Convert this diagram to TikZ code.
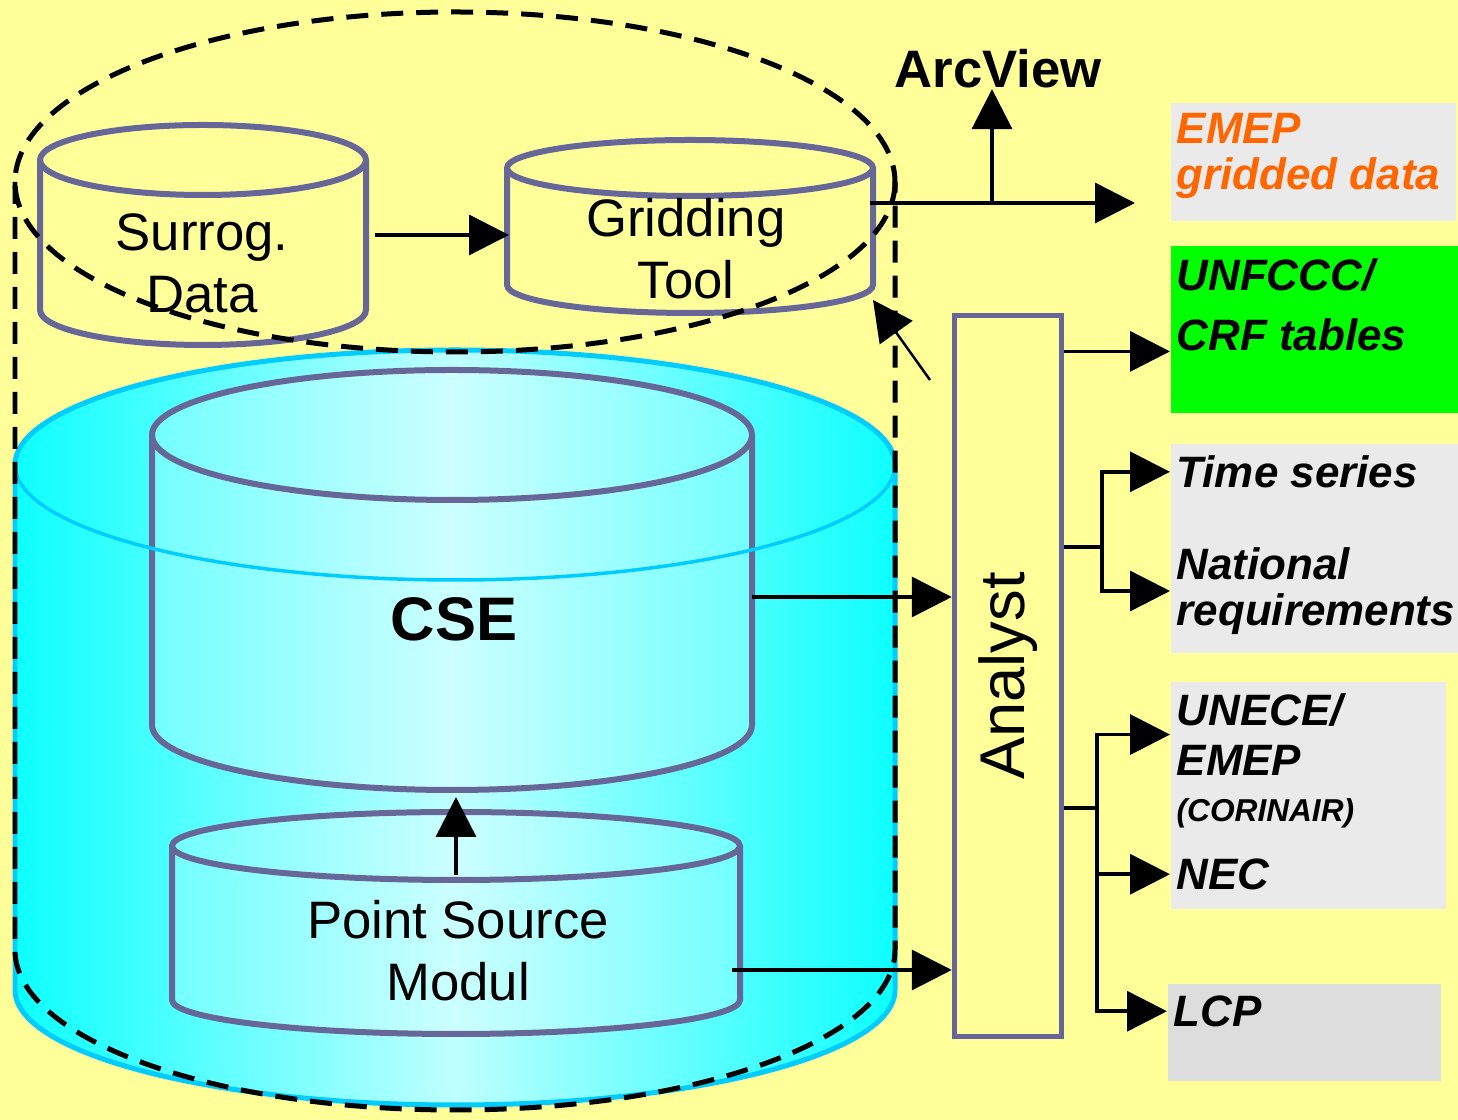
\documentclass[tikz,border=0pt]{standalone}
\usepackage{fontspec}
\setmainfont{Liberation Sans}
\usepackage{xcolor}
\definecolor{paper}{RGB}{255,255,153}
\definecolor{drumline}{RGB}{102,102,153}
\definecolor{aqua}{RGB}{0,255,255}
\definecolor{aqualight}{RGB}{204,255,255}
\definecolor{aquaedge}{RGB}{0,204,255}
\definecolor{panelgray}{RGB}{234,234,234}
\definecolor{lcpgray}{RGB}{221,221,221}
\definecolor{signal}{RGB}{0,255,0}
\definecolor{emeporange}{RGB}{255,102,0}
\usetikzlibrary{arrows.meta,positioning,calc}

\begin{document}
\begin{tikzpicture}[x=0.1mm, y=-0.1mm,
  drum/.style={draw=drumline, line width=0.6mm},
  tank/.style={draw=aquaedge, line width=0.5mm},
  rim/.style={draw=aquaedge, line width=0.35mm},
  fence/.style={line width=0.5mm, dash pattern=on 2.2mm off 1.3mm},
  flow/.style={-{Triangle[length=4mm,width=4mm]}, line width=0.35mm},
  link/.style={line width=0.35mm},
  panel/.style={anchor=north west, inner sep=0pt},
  outlabel/.style={anchor=north west, inner xsep=0.6mm, inner ysep=0pt, align=left, font=\fontsize{12.5}{13}\selectfont\bfseries\itshape},
  drumlabel/.style={anchor=north, align=center, inner sep=0pt, font=\fontsize{15}{17.5}\selectfont}
]
\useasboundingbox (0,0) rectangle (1458,1120);
\fill[paper] (0,0) rectangle (1458,1120);

% big tank
\draw[tank, left color=aqua!95!white, right color=aqua!95!white, middle color=aqua!25!white]
  (15,465) -- (15,990) arc[start angle=180, end angle=0, x radius=440, y radius=115]
  -- (895,465) arc[start angle=0, end angle=-180, x radius=440, y radius=115] -- cycle;

% CSE drum
\draw[drum, left color=aqua!55!white, right color=aqua!55!white, middle color=aqua!20!white]
  (152,435) -- (152,725) arc[start angle=180, end angle=0, x radius=300, y radius=65]
  -- (752,435) arc[start angle=0, end angle=-180, x radius=300, y radius=65] -- cycle;
\draw[drum] (152,435) arc[start angle=180, end angle=0, x radius=300, y radius=65];
\draw[rim] (455,465) ellipse[x radius=440, y radius=115];

% point source drum
\draw[drum, left color=aqua!55!white, right color=aqua!55!white, middle color=aqua!20!white]
  (172,846) -- (172,1000) arc[start angle=180, end angle=0, x radius=284, y radius=34]
  -- (740,846) arc[start angle=0, end angle=-180, x radius=284, y radius=34] -- cycle;
\draw[drum] (172,846) arc[start angle=180, end angle=0, x radius=284, y radius=34];

% surrogate and gridding drums
\draw[drum] (40,160) -- (40,310) arc[start angle=180, end angle=0, x radius=163, y radius=35] -- (366,160);
\draw[drum] (203,160) ellipse[x radius=163, y radius=35];
\draw[drum] (507,168) -- (507,285) arc[start angle=180, end angle=0, x radius=183, y radius=28] -- (873,168);
\draw[drum] (690,168) ellipse[x radius=183, y radius=28];

% dashed frame
\draw[fence] (15,182) -- (15,950) arc[start angle=180, end angle=0, x radius=440, y radius=160] -- (895,182);
\draw[fence] (455,182) ellipse[x radius=440, y radius=170];

% analyst and output panels
\node[draw=drumline, line width=0.55mm, fill=paper, minimum width=10.7mm, minimum height=72.1mm,
  font=\fontsize{18}{20}\selectfont] (analyst) at (1008,676) {\rotatebox{90}{Analyst}};
\node[panel, fill=panelgray, minimum width=28.5mm, minimum height=11.8mm] (emepbox) at (1170,102) {};
\node[panel, fill=signal, minimum width=28.8mm, minimum height=16.7mm] (unfbox) at (1170,245) {};
\node[panel, fill=panelgray, minimum width=28.8mm, minimum height=20.9mm] (natbox) at (1170,443) {};
\node[panel, fill=panelgray, minimum width=27.5mm, minimum height=22.7mm] (unecebox) at (1170,681) {};
\node[panel, fill=lcpgray, minimum width=27.3mm, minimum height=9.7mm] (lcpbox) at (1167,983) {};

% texts
\node[drumlabel] (surr) at (202,213) {Surrog.\\Data};
\node[drumlabel] (grid) at (686,198) {Gridding\\Tool};
\node[drumlabel] (pts) at (458,900) {Point Source\\Modul};
\node[anchor=north, inner sep=0pt, font=\fontsize{17.5}{20}\selectfont\bfseries] (cse) at (454,597) {CSE};
\node[anchor=north, inner sep=0pt, font=\fontsize{15}{18}\selectfont\bfseries] (arcview) at (998,49) {ArcView};
\node[outlabel, text=emeporange] (emep) at (1170,113) {EMEP\\gridded data};
\node[outlabel] (unf) at (1170,258) {UNFCCC/\\[4pt]CRF tables};
\node[outlabel] (ts) at (1170,455) {Time series};
\node[outlabel] (nat) at (1170,547) {National\\requirements};
\node[outlabel] (unece) at (1170,693) {UNECE/\\[1.2pt]EMEP};
\node[outlabel, font=\fontsize{9}{10}\selectfont\bfseries\itshape] (cori) at (1170,798) {(CORINAIR)};
\node[outlabel] (nec) at (1170,858) {NEC};
\node[outlabel] (lcp) at (1167,995) {LCP};

% connectors
\coordinate (surr-r) at (375,235);
\coordinate (grid-l) at (509,235);
\coordinate (grid-r) at (870,203);
\coordinate (grid-br) at (873,300);
\coordinate (split) at (992,203);
\coordinate (hint) at (930,380);
\coordinate (cse-r) at (752,597);
\coordinate (cse-b) at (456,797);
\coordinate (pts-t) at (456,875);
\coordinate (pts-r) at (732,970);
\coordinate (fork1) at (1102,547);
\coordinate (fork2) at (1097,808);

\draw[flow] (surr-r) -- (grid-l);
\draw[flow, shorten >=3.5mm] (grid-r) -- (grid-r -| emepbox.west);
\draw[flow] (split) -- (split |- arcview.south);
\draw[-{Triangle[length=4mm,width=4mm]}, line width=0.25mm] (hint) -- (grid-br);
\draw[flow] (pts-t) -- (cse-b);
\draw[flow] (cse-r) -- (cse-r -| analyst.west);
\draw[flow] (pts-r) -- (pts-r -| analyst.west);
\draw[flow] (analyst.east |- unf.south west) -- (unf.south west);
\draw[link] (fork1 -| analyst.east) -- (fork1);
\draw[flow] (fork1) |- (ts.west);
\draw[flow] (fork1) |- (nat.west);
\draw[link] (fork2 -| analyst.east) -- (fork2);
\draw[flow] (fork2) |- (unece.west);
\draw[flow] (fork2) |- (nec.west);
\draw[flow] (fork2) |- (lcp.west);
\end{tikzpicture}
\end{document}
